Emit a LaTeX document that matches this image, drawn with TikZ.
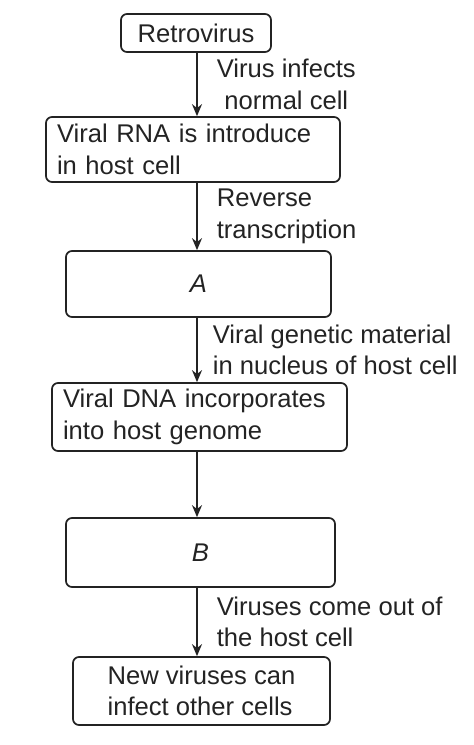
\documentclass[tikz,border=0pt]{standalone}
\usepackage{fontspec}
\setmainfont{Liberation Sans}
\usetikzlibrary{arrows.meta}
\definecolor{inkgray}{RGB}{35,35,35}

\begin{document}
\begin{tikzpicture}[x=0.5pt,y=-0.5pt,
	box/.style={draw=inkgray,line width=0.85pt,rounded corners=3pt,text=inkgray,
		font=\fontsize{12.8pt}{15.8pt}\selectfont,inner xsep=5.5pt,inner ysep=0pt},
	lbl/.style={anchor=west,inner sep=0pt,xshift=9.5pt,text=inkgray,
		font=\fontsize{12.8pt}{15.8pt}\selectfont},
	flow/.style={draw=inkgray,line width=0.85pt,-{Stealth[length=6pt,width=5pt]}}]
\useasboundingbox (0,0) rectangle (474,745);
\coordinate (spine) at (197,0);

\node (retro) at (196,33) [box,minimum width=75pt,minimum height=19pt] {Retrovirus};
\node (rna) at (193,149.5) [box,text width=136pt,minimum height=32.5pt,align=left] {Viral RNA is introduce\\in host cell};
\node (stepA) at (198.5,284) [box,minimum width=132.5pt,minimum height=33pt] {\textit{A}};
\node (dna) at (199.5,417) [box,text width=136.5pt,minimum height=34pt,align=left] {Viral DNA incorporates\\into host genome};
\node (stepB) at (200.5,552.5) [box,minimum width=134.5pt,minimum height=34.5pt] {\textit{B}};
\node (newvir) at (201.5,691) [box,minimum width=128.5pt,minimum height=34pt,align=left] {New viruses can\\infect other cells};

\draw[flow] (spine |- retro.south) -- node[lbl,align=center] {Virus infects\\normal cell} (spine |- rna.north);
\draw[flow] (spine |- rna.south) -- node[lbl,align=left] {Reverse\\transcription} (spine |- stepA.north);
\draw[flow] (spine |- stepA.south) -- node[lbl,align=left,xshift=-2pt] {Viral genetic material\\in nucleus of host cell} (spine |- dna.north);
\draw[flow] (spine |- dna.south) -- (spine |- stepB.north);
\draw[flow] (spine |- stepB.south) -- node[lbl,align=left] {Viruses come out of\\the host cell} (spine |- newvir.north);
\end{tikzpicture}
\end{document}
